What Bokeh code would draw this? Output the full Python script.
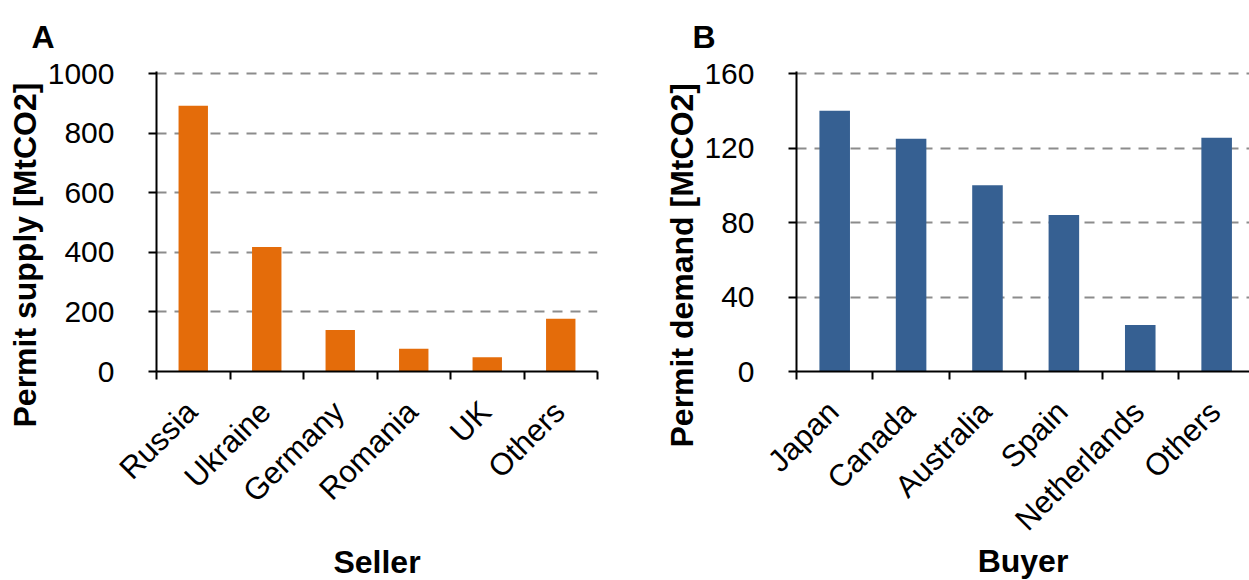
import math
from bokeh.plotting import figure
from bokeh.models import Range1d, FixedTicker, ColumnDataSource, Title
from bokeh.layouts import row
from bokeh.embed import file_html
from bokeh.resources import INLINE

# ---- data ----
sellers = ["Russia", "Ukraine", "Germany", "Romania", "UK", "Others"]
supply = [892, 418, 139, 76, 48, 177]
supply_ticks = [0, 200, 400, 600, 800, 1000]

buyers = ["Japan", "Canada", "Australia", "Spain", "Netherlands", "Others"]
demand = [140, 125, 100, 84, 25, 125.5]
demand_ticks = [0, 40, 80, 120, 160]

FONT = "Liberation Sans"
FRAME_H = 300
TICK_SPAN_H = 298  # pixels between lowest and highest y tick


def make_panel(letter, cats, vals, color, ylabel, xlabel, yticks, xend,
               frame_w, min_left, min_right, title_off, x_title_standoff,
               label_shift, ytitle_off):
    n = len(cats)
    src = ColumnDataSource(dict(x=[i + 0.5 for i in range(n)], top=vals, cat=cats))
    ytop = yticks[0] + (yticks[-1] - yticks[0]) * FRAME_H / TICK_SPAN_H
    p = figure(x_range=Range1d(0, xend), y_range=Range1d(yticks[0], ytop),
               frame_width=frame_w, frame_height=FRAME_H,
               min_border_left=min_left, min_border_right=min_right,
               min_border_top=70, min_border_bottom=210,
               output_backend="svg", toolbar_location=None, title=letter)
    p.vbar(x="x", top="top", width=0.4, source=src, fill_color=color, line_color=None)

    p.title.text_font = FONT
    p.title.text_font_size = "32px"
    p.title.text_font_style = "bold"
    p.title.text_color = "black"
    p.title.align = "left"
    p.title.vertical_align = "bottom"
    p.title.offset = title_off
    p.title.standoff = 33

    label_pos = [i + 0.5 - label_shift for i in range(n)]
    xa = p.xaxis[0]
    xa.ticker = FixedTicker(ticks=label_pos, minor_ticks=list(range(n + 1)))
    xa.major_label_overrides = {pos: c for pos, c in zip(label_pos, cats)}
    xa.major_label_orientation = math.pi / 4
    xa.major_tick_out = 0
    xa.major_tick_in = 0
    xa.minor_tick_out = 8
    xa.minor_tick_in = 0
    xa.minor_tick_line_color = "black"
    xa.minor_tick_line_width = 2
    xa.axis_line_color = "black"
    xa.axis_line_width = 2
    xa.major_label_standoff = 27
    xa.major_label_text_font = FONT
    xa.major_label_text_font_size = "31px"
    xa.major_label_text_color = "black"
    xa.axis_label = xlabel
    xa.axis_label_standoff = x_title_standoff
    xa.axis_label_text_font = FONT
    xa.axis_label_text_font_size = "32px"
    xa.axis_label_text_font_style = "bold"
    xa.axis_label_text_color = "black"

    ya = p.yaxis[0]
    ya.ticker = FixedTicker(ticks=yticks, minor_ticks=[])
    ya.major_tick_out = 8
    ya.major_tick_in = 0
    ya.major_tick_line_color = "black"
    ya.major_tick_line_width = 2
    ya.minor_tick_out = 0
    ya.minor_tick_in = 0
    ya.axis_line_color = "black"
    ya.axis_line_width = 2
    ya.major_label_standoff = 34
    ya.major_label_text_font = FONT
    ya.major_label_text_font_size = "30px"
    ya.major_label_text_color = "black"

    yt = Title(text=ylabel, align="left", offset=ytitle_off, standoff=4,
               text_font=FONT, text_font_size="32px", text_font_style="bold",
               text_color="black")
    p.add_layout(yt, "left")

    p.xgrid.visible = False
    p.ygrid.ticker = FixedTicker(ticks=yticks, minor_ticks=[])
    p.ygrid.grid_line_color = "#8c8c8c"
    p.ygrid.grid_line_width = 2
    p.ygrid.grid_line_dash = "10 8"
    p.outline_line_color = None
    p.background_fill_color = "white"
    p.border_fill_color = "white"
    return p


pA = make_panel("A", sellers, supply, "#E46C0A", "Permit supply [MtCO2]", "Seller",
                supply_ticks, 6, 441, 156, 30, -125, 20, 0.02, -56)
pB = make_panel("B", buyers, demand, "#366092", "Permit demand [MtCO2]", "Buyer",
                demand_ticks, 5.93, 453, 169, 0, -104, -9, 0.02, -76)

layout = row(pA, pB)
open("out.html", "w").write(file_html(layout, INLINE))
